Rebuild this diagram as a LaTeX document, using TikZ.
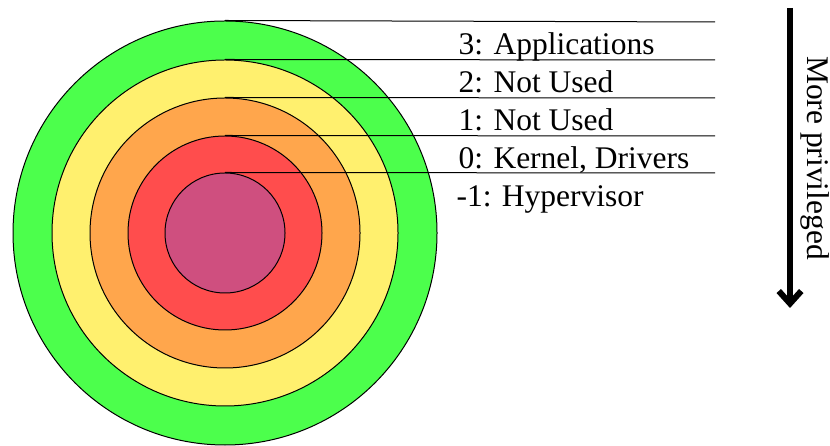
\documentclass[tikz,border=0pt]{standalone}
\usepackage{fontspec}
\setmainfont{Liberation Serif}
\usetikzlibrary{arrows.meta}

\definecolor{ringthree}{RGB}{76,255,76}
\definecolor{ringtwo}{RGB}{255,240,110}
\definecolor{ringone}{RGB}{255,166,76}
\definecolor{ringzero}{RGB}{255,77,77}
\definecolor{ringhyp}{RGB}{207,79,127}

\begin{document}
\begin{tikzpicture}[
            x=0.4pt, y=0.4pt,
            ring/.style={draw, circle, inner sep=0pt, minimum size=#1*0.4pt},
            level/.style={anchor=base west, inner sep=0pt, font=\fontsize{12.6}{15}\selectfont}
        ]
            \useasboundingbox (0,0) rectangle (830,445);

            \node[ring=424, fill=ringthree] (r3) at (225,212) {};
            \node[ring=346, fill=ringtwo] (r2) at (225,212) {};
            \node[ring=270, fill=ringone] (r1) at (225,212) {};
            \node[ring=194, fill=ringzero] (r0) at (225,212) {};
            \node[ring=120, fill=ringhyp] (rh) at (225,212) {};

            \coordinate (e3) at (715,423);
            \coordinate (e2) at (715,385);
            \coordinate (e1) at (715,347);
            \coordinate (e0) at (715,309);
            \coordinate (eh) at (715,272);

            \draw (r3.north) -- (e3);
            \draw (r2.north) -- (e2);
            \draw (r1.north) -- (e1);
            \draw (r0.north) -- (e0);
            \draw (rh.north) -- (eh);

            \node[level] (l3) at (458,390) {3: Applications};
            \node[level] (l2) at (458,352) {2: Not Used};
            \node[level] (l1) at (458,314) {1: Not Used};
            \node[level] (l0) at (458,276) {0: Kernel, Drivers};
            \node[level] (lh) at (456,238) {-1: Hypervisor};

            \coordinate (top) at (790,437);
            \coordinate (bot) at (790,137);
            \draw[line width=2.4pt, -{Straight Barb[length=5pt, width=9pt]}] (top) -- node[anchor=south, rotate=-90, inner sep=3pt, font=\fontsize{12.6}{15}\selectfont] (priv) {More privileged} (bot);

        \end{tikzpicture}
\end{document}
